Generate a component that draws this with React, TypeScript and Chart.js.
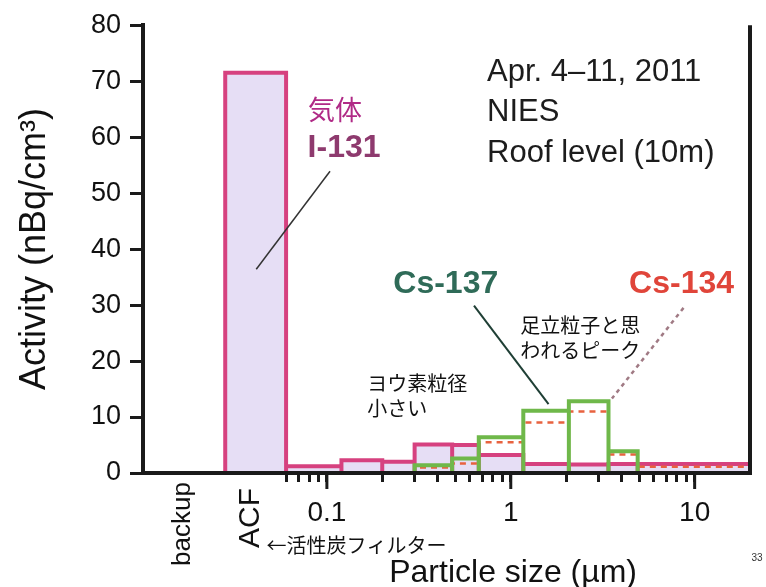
import { useEffect, useRef } from 'react';
import { Chart, registerables } from 'chart.js';

Chart.register(...registerables);

const SANS = "'Liberation Sans', Arial, Helvetica, sans-serif";
const NARROW = "'Liberation Sans Narrow', 'Liberation Sans', Arial, sans-serif";
const CJK = "'Noto Sans CJK JP', 'Noto Sans', sans-serif";
const INK = '#1a1a1a';

// Stage cut-off diameters (µm); first stage is the activated-charcoal filter (ACF)
const stageEdges = [0.028, 0.06, 0.12, 0.2, 0.3, 0.48, 0.67, 1.17, 2.07, 3.4, 4.9, 20];
// Activity on each stage (nBq/cm³); null = not drawn
const i131Activity = [71.5, 1.2, 2.3, 2.0, 5.1, 5.0, 3.2, 1.6, 1.5, 1.6, 1.6];
const cs137Activity = [null, null, null, null, 1.4, 2.6, 6.4, 11.1, 12.8, 3.9, null];
const cs134Activity = [null, null, null, null, 1.0, 1.7, 5.5, 9.0, 11.0, 3.3, 1.1];

// Axis ticks
const xTickValues = [0.06, 0.07, 0.08, 0.09, 0.1, 0.2, 0.3, 0.4, 0.5, 0.6, 0.7, 0.8, 0.9, 1, 2, 3, 4, 5, 6, 7, 8, 9, 10];
const xMajorTicks = [0.1, 1, 10];
const xTickLabels = ['0.1', '1', '10'];
const filterLabels = ['backup', 'ACF'];
const filterSpans = [[0.01, 0.028], [0.028, 0.06]];

type Pt = { x: number; y: number };

// Outline of adjacent boxes: every stage is its own rectangle down to zero
function boxOutline(edges: number[], values: (number | null)[]): Pt[] {
  const pts: Pt[] = [];
  values.forEach((v, i) => {
    if (v == null) return;
    const x0 = edges[i];
    const x1 = edges[i + 1];
    pts.push({ x: x0, y: 0 }, { x: x0, y: v }, { x: x1, y: v }, { x: x1, y: 0 });
  });
  return pts;
}

function drawText(ctx: CanvasRenderingContext2D, s: string, x: number, y: number, font: string, color: string, align: CanvasTextAlign = 'left') {
  ctx.font = font;
  ctx.fillStyle = color;
  ctx.textAlign = align;
  ctx.textBaseline = 'middle';
  ctx.fillText(s, x, y);
}

const overlay = {
  id: 'overlay',
  afterDatasetsDraw(chart: any) {
    const { ctx, chartArea: a } = chart;
    ctx.save();
    ctx.strokeStyle = INK;
    ctx.lineWidth = 4;
    ctx.beginPath();
    ctx.moveTo(a.left - 2, a.bottom);
    ctx.lineTo(a.right + 2, a.bottom);
    ctx.moveTo(a.right, a.top);
    ctx.lineTo(a.right, a.bottom);
    ctx.stroke();
    ctx.restore();
  },
  afterDraw(chart: any) {
    const { ctx, chartArea: a, scales } = chart;
    const X = (v: number) => scales.x.getPixelForValue(v);
    const Y = (v: number) => scales.y.getPixelForValue(v);
    ctx.save();

    // longer decade ticks
    ctx.strokeStyle = INK;
    ctx.lineWidth = 3;
    xMajorTicks.forEach((v) => {
      const x = X(v);
      ctx.beginPath();
      ctx.moveTo(x, a.bottom);
      ctx.lineTo(x, a.bottom + 16);
      ctx.stroke();
    });

    // filter stage names, written vertically
    filterLabels.forEach((name, i) => {
      const [lo, hi] = filterSpans[i];
      const x = X(Math.sqrt(lo * hi));
      ctx.save();
      ctx.translate(i === 0 ? x - 1 : x - 5, a.bottom + (i === 0 ? 51 : 45));
      ctx.rotate(-Math.PI / 2);
      drawText(ctx, name, 0, 0, `${i === 0 ? 26 : 30}px ${SANS}`, '#111', 'center');
      ctx.restore();
    });
    drawText(ctx, '←活性炭フィルター', X(0.047), a.bottom + 72, `20px ${CJK}`, '#111');
    drawText(ctx, 'Particle size (µm)', X(1.03), a.bottom + 100, `32px ${SANS}`, '#111', 'center');
    drawText(ctx, '33', a.right + 7, a.bottom + 85, `10px ${SANS}`, '#333', 'center');

    // sampling info
    const info = ['Apr. 4–11, 2011', 'NIES', 'Roof level (10m)'];
    const infoY = [71.6, 64.4, 57.1];
    info.forEach((s, i) => drawText(ctx, s, X(0.743), Y(infoY[i]), `31px ${SANS}`, '#1c1c1c'));

    // I-131 callout
    drawText(ctx, '気体', X(0.1106), Y(64.9), `27px ${CJK}`, '#b02a86', 'center');
    drawText(ctx, 'I-131', X(0.124), Y(58.0), `bold 32px ${SANS}`, '#8e3a6e', 'center');
    ctx.strokeStyle = '#333';
    ctx.lineWidth = 1.5;
    ctx.beginPath();
    ctx.moveTo(X(0.104), Y(53.9));
    ctx.lineTo(X(0.0413), Y(36.4));
    ctx.stroke();

    // Cs-137 callout
    drawText(ctx, 'Cs-137', X(0.443), Y(33.8), `bold 32px ${SANS}`, '#2f6b58', 'center');
    ctx.strokeStyle = '#1f3f35';
    ctx.lineWidth = 2;
    ctx.beginPath();
    ctx.moveTo(X(0.631), Y(29.9));
    ctx.lineTo(X(1.605), Y(12.3));
    ctx.stroke();

    // Cs-134 callout
    drawText(ctx, 'Cs-134', X(8.49), Y(33.8), `bold 32px ${SANS}`, '#e0453a', 'center');
    ctx.strokeStyle = '#a07a84';
    ctx.lineWidth = 2.5;
    ctx.setLineDash([4, 4]);
    ctx.beginPath();
    ctx.moveTo(X(8.7), Y(29.5));
    ctx.lineTo(X(3.55), Y(13.3));
    ctx.stroke();
    ctx.setLineDash([]);

    // notes
    drawText(ctx, '足立粒子と思', X(1.127), Y(26.3), `20px ${CJK}`, '#111');
    drawText(ctx, 'われるピーク', X(1.127), Y(21.9), `20px ${CJK}`, '#111');
    drawText(ctx, 'ヨウ素粒径', X(0.1657), Y(16.0), `20px ${CJK}`, '#111');
    drawText(ctx, '小さい', X(0.1657), Y(11.6), `20px ${CJK}`, '#111');

    ctx.restore();
  },
};

export default function App() {
  const ref = useRef<HTMLCanvasElement | null>(null);

  useEffect(() => {
    if (!ref.current) return;
    const chart = new Chart(ref.current, {
      type: 'line',
      data: {
        datasets: [
          {
            label: 'Cs-137',
            data: boxOutline(stageEdges, cs137Activity),
            borderColor: '#6fb84a',
            borderWidth: 4,
            borderJoinStyle: 'miter',
            fill: false,
            pointRadius: 0,
            order: 1,
          },
          {
            label: 'Cs-134',
            data: boxOutline(stageEdges, cs134Activity),
            borderColor: '#e8623f',
            borderWidth: 2.5,
            borderDash: [6, 5],
            fill: false,
            pointRadius: 0,
            order: 2,
          },
          {
            label: 'I-131',
            data: boxOutline(stageEdges, i131Activity),
            borderColor: '#d6417f',
            backgroundColor: '#e6def5',
            borderWidth: 4,
            borderJoinStyle: 'miter',
            fill: 'origin',
            pointRadius: 0,
            order: 3,
          },
        ],
      },
      options: {
        responsive: false,
        animation: false,
        layout: { padding: { left: 0, right: 16, top: 23, bottom: 0 } },
        plugins: { legend: { display: false }, tooltip: { enabled: false } },
        scales: {
          x: {
            type: 'logarithmic',
            min: 0.01,
            max: 20,
            afterBuildTicks: (s: any) => {
              s.ticks = xTickValues.map((v) => ({ value: v }));
            },
            afterFit: (s: any) => {
              s.height = 114;
            },
            ticks: {
              autoSkip: false,
              maxRotation: 0,
              minRotation: 0,
              padding: 14,
              color: '#111',
              font: { family: NARROW, size: 28 },
              callback: (v: any) => {
                const i = xMajorTicks.indexOf(Number(v));
                return i >= 0 ? xTickLabels[i] : '';
              },
            },
            grid: { drawOnChartArea: false, tickLength: 9, tickWidth: 3, tickColor: INK },
            border: { display: true, width: 4, color: INK },
          },
          y: {
            min: 0,
            max: 80,
            afterFit: (s: any) => {
              s.width = 143;
            },
            ticks: {
              stepSize: 10,
              padding: 9,
              color: '#111',
              font: { family: SANS, size: 27 },
            },
            grid: { drawOnChartArea: false, tickLength: 13, tickWidth: 3, tickColor: INK },
            border: { display: true, width: 4, color: INK },
            title: {
              display: true,
              text: 'Activity (nBq/cm³)',
              color: '#111',
              font: { family: SANS, size: 36 },
              padding: { top: 13, bottom: 0 },
            },
          },
        },
      },
      plugins: [overlay],
    } as any);
    return () => chart.destroy();
  }, []);

  return (
    <div style={{ position: 'fixed', left: 0, top: 0, width: 766, height: 587, background: '#fff' }}>
      <canvas ref={ref} width={766} height={587} style={{ display: 'block' }} />
    </div>
  );
}
